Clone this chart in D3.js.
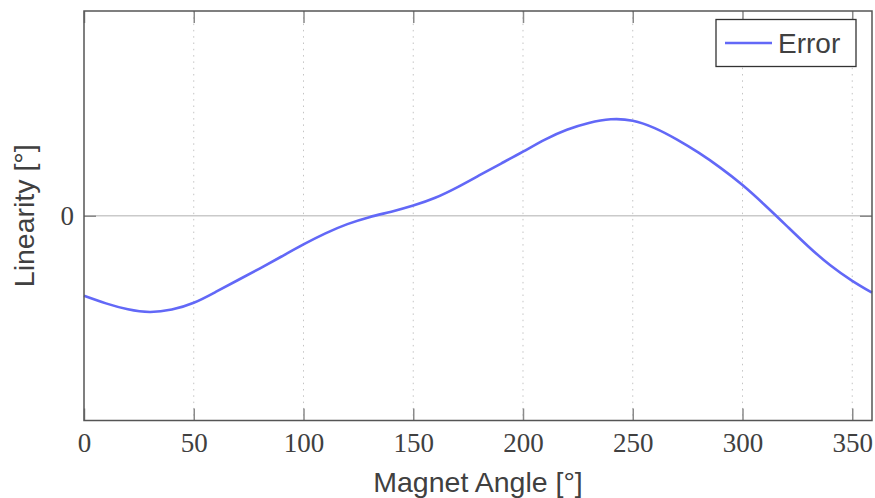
<!DOCTYPE html>
<html>
<head>
<meta charset="utf-8">
<script src="https://cdn.jsdelivr.net/npm/d3@7"></script>
<style>
  html, body { margin: 0; padding: 0; background: #fff; }
  svg { display: block; }
</style>
</head>
<body>
<svg id="chart" width="875" height="498"></svg>
<script>
// Linearity error over one magnet revolution (normalised units)
const angles = [0, 10, 20, 30, 40, 50, 60, 70, 80, 90,
                100, 110, 120, 130, 140, 150, 160, 170, 180, 190,
                200, 210, 220, 230, 240, 250, 260, 270, 280, 290,
                300, 310, 320, 330, 340, 350, 359];
const errorValues = [-0.391, -0.428, -0.457, -0.470, -0.458, -0.425, -0.372, -0.315, -0.258, -0.199,
                     -0.140, -0.086, -0.041, -0.007, 0.020, 0.050, 0.088, 0.139, 0.197, 0.255,
                     0.313, 0.372, 0.420, 0.453, 0.471, 0.464, 0.428, 0.373, 0.308, 0.234,
                     0.150, 0.054, -0.048, -0.150, -0.242, -0.318, -0.376];
const xTicks = [0, 50, 100, 150, 200, 250, 300, 350];
const yTicks = [0];
const seriesName = "Error";

const W = 875, H = 498;
const margin = { left: 84, top: 11, right: 3, bottom: 77.5 };
const svg = d3.select("#chart");

const x = d3.scaleLinear().domain([0, 359]).range([margin.left, W - margin.right]);
const y = d3.scaleLinear().domain([-1, 1]).range([H - margin.bottom, margin.top]);

const textColor = "#404040";
const frameColor = "#555";
const tickColor = "#8a8a8a";
const lineColor = "#6268f7";
const serif = "'Liberation Serif', 'DejaVu Serif', serif";
const sans = "'Liberation Sans', Arial, sans-serif";

// vertical dotted grid
svg.append("g")
  .selectAll("line")
  .data(xTicks.filter(d => d > 0))
  .join("line")
  .attr("x1", d => x(d)).attr("x2", d => x(d))
  .attr("y1", y(1)).attr("y2", y(-1))
  .attr("stroke", "#c4c4c4")
  .attr("stroke-width", 1)
  .attr("stroke-dasharray", "1.5,4.8");

// zero line
svg.append("g")
  .selectAll("line")
  .data(yTicks)
  .join("line")
  .attr("x1", x(0)).attr("x2", x(359))
  .attr("y1", d => y(d)).attr("y2", d => y(d))
  .attr("stroke", "#cacaca")
  .attr("stroke-width", 1.5);

// inward ticks on all four sides
const tickLen = 12;
const fmt = d3.format("d");

const gxb = svg.append("g").attr("transform", `translate(0,${y(-1)})`)
  .call(d3.axisBottom(x).tickValues(xTicks).tickFormat(fmt)
    .tickSizeInner(-tickLen).tickSizeOuter(0).tickPadding(12));
gxb.select(".domain").remove();
gxb.selectAll(".tick line").attr("stroke", tickColor).attr("stroke-width", 1.5);
gxb.selectAll(".tick text")
  .attr("fill", textColor)
  .attr("font-family", serif)
  .attr("font-size", 27)
  .attr("dy", "0.71em");

const gxt = svg.append("g").attr("transform", `translate(0,${y(1)})`)
  .call(d3.axisTop(x).tickValues(xTicks).tickFormat("")
    .tickSizeInner(-tickLen).tickSizeOuter(0));
gxt.select(".domain").remove();
gxt.selectAll(".tick line").attr("stroke", tickColor).attr("stroke-width", 1.5);

const gyl = svg.append("g").attr("transform", `translate(${x(0)},0)`)
  .call(d3.axisLeft(y).tickValues(yTicks).tickFormat(fmt)
    .tickSizeInner(-tickLen).tickSizeOuter(0).tickPadding(10));
gyl.select(".domain").remove();
gyl.selectAll(".tick line").attr("stroke", tickColor).attr("stroke-width", 1.5);
gyl.selectAll(".tick text")
  .attr("fill", textColor)
  .attr("font-family", serif)
  .attr("font-size", 27);

const gyr = svg.append("g").attr("transform", `translate(${x(359)},0)`)
  .call(d3.axisRight(y).tickValues(yTicks).tickFormat("")
    .tickSizeInner(-tickLen).tickSizeOuter(0));
gyr.select(".domain").remove();
gyr.selectAll(".tick line").attr("stroke", tickColor).attr("stroke-width", 1.5);

// error curve
const data = angles.map((a, i) => ({ a, v: errorValues[i] }));
const line = d3.line()
  .x(d => x(d.a))
  .y(d => y(d.v))
  .curve(d3.curveNatural);

svg.append("path")
  .datum(data)
  .attr("d", line)
  .attr("fill", "none")
  .attr("stroke", lineColor)
  .attr("stroke-width", 2.6)
  .attr("stroke-linejoin", "round");

// frame
svg.append("rect")
  .attr("x", x(0)).attr("y", y(1))
  .attr("width", x(359) - x(0))
  .attr("height", y(-1) - y(1))
  .attr("fill", "none")
  .attr("stroke", frameColor)
  .attr("stroke-width", 1.5);

// axis labels
svg.append("text")
  .attr("x", (x(0) + x(359)) / 2)
  .attr("y", 491.5)
  .attr("text-anchor", "middle")
  .attr("fill", textColor)
  .attr("font-family", sans)
  .attr("font-size", 28.5)
  .text("Magnet Angle [°]");

svg.append("text")
  .attr("transform", `translate(33.5,${y(0)}) rotate(-90)`)
  .attr("text-anchor", "middle")
  .attr("fill", textColor)
  .attr("font-family", sans)
  .attr("font-size", 28.5)
  .text("Linearity [°]");

// legend
const legend = svg.append("g");
legend.append("rect")
  .attr("x", 716).attr("y", 19.5)
  .attr("width", 140).attr("height", 47)
  .attr("fill", "#fff")
  .attr("stroke", "#333")
  .attr("stroke-width", 1.3);
legend.append("line")
  .attr("x1", 725).attr("x2", 772)
  .attr("y1", 43).attr("y2", 43)
  .attr("stroke", lineColor)
  .attr("stroke-width", 2.6);
legend.append("text")
  .attr("x", 778).attr("y", 53.3)
  .attr("fill", textColor)
  .attr("font-family", sans)
  .attr("font-size", 28)
  .text(seriesName);
</script>
</body>
</html>
